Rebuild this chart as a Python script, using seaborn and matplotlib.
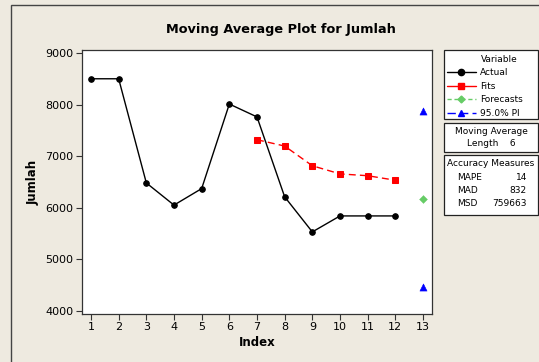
import matplotlib
matplotlib.use("Agg")
import matplotlib.pyplot as plt
import seaborn as sns
import pandas as pd
from matplotlib.lines import Line2D
from matplotlib.patches import Rectangle

# ---- data ----
index_actual = [1, 2, 3, 4, 5, 6, 7, 8, 9, 10, 11, 12]
actual = [8500, 8500, 6480, 6050, 6370, 8010, 7760, 6210, 5530, 5840, 5840, 5840]
index_fits = [7, 8, 9, 10, 11, 12]
fits = [7318, 7195, 6813, 6655, 6620, 6532]
index_forecast = [13]
forecast = [6170]
index_pi = [13, 13]
pi = [4462, 7878]
x_ticks = list(range(1, 14))
y_ticks = [4000, 5000, 6000, 7000, 8000, 9000]
title = "Moving Average Plot for Jumlah"
measures = ["MAPE", "MAD", "MSD"]
measure_vals = ["14", "832", "759663"]

sns.set_style("white")
plt.rcParams['font.family'] = ['DejaVu Sans']
plt.rcParams['text.color'] = 'black'
plt.rcParams['axes.labelcolor'] = 'black'
plt.rcParams['xtick.color'] = 'black'
plt.rcParams['ytick.color'] = 'black'

bg = "#EEEAE0"
W, H = 539, 362
fig = plt.figure(figsize=(W / 100, H / 100), dpi=100, facecolor=bg)

def fx(px):
    return px / W

def fy(py):
    return 1 - py / H

# outer frame
fig.patches.append(Rectangle((fx(11), -0.2), 2, fy(5) + 0.2, transform=fig.transFigure,
                             fill=False, edgecolor="#444444", linewidth=1.0))

ax = fig.add_axes([fx(82), fy(314), fx(432) - fx(82), fy(50) - fy(314)])
ax.set_facecolor("white")

df_a = pd.DataFrame({"Index": index_actual, "Jumlah": actual})
df_f = pd.DataFrame({"Index": index_fits, "Jumlah": fits})
df_fc = pd.DataFrame({"Index": index_forecast, "Jumlah": forecast})
df_pi = pd.DataFrame({"Index": index_pi, "Jumlah": pi})

sns.lineplot(data=df_a, x="Index", y="Jumlah", ax=ax, color="black", linewidth=1.0,
             marker="o", markersize=4, markeredgecolor="black")
sns.lineplot(data=df_f, x="Index", y="Jumlah", ax=ax, color="#FF0000", linewidth=1.0,
             linestyle=(0, (5, 3)), marker="s", markersize=4.2, markeredgecolor="#FF0000")
sns.scatterplot(data=df_fc, x="Index", y="Jumlah", ax=ax, color="#66CC66", marker="D",
                s=16, edgecolor="#66CC66")
sns.scatterplot(data=df_pi, x="Index", y="Jumlah", ax=ax, color="#0000FF", marker="^",
                s=26, edgecolor="#0000FF")

ax.set_xlim(0.675, 13.325)
ax.set_ylim(3938, 9058)
ax.set_xticks(x_ticks)
ax.set_yticks(y_ticks)
ax.tick_params(axis="both", direction="out", length=4, width=0.8, labelsize=8,
               color="#333333", pad=2, left=True, bottom=True)
for s in ax.spines.values():
    s.set_color("#333333")
    s.set_linewidth(0.9)
ax.set_xlabel("Index", fontsize=8.5, fontweight="bold", labelpad=3)
ax.set_ylabel("Jumlah", fontsize=8.5, fontweight="bold", labelpad=4)

fig.text(fx(281), fy(30), title, ha="center", va="center", fontsize=9.3, fontweight="bold")

# legend boxes
def box(x0, y0, x1, y1):
    fig.patches.append(Rectangle((fx(x0), fy(y1)), fx(x1) - fx(x0), fy(y0) - fy(y1),
                                 transform=fig.transFigure, facecolor="white",
                                 edgecolor="#222222", linewidth=0.9))

box(444, 50, 538, 119)
box(444, 123, 538, 152)
box(444, 155, 538, 215)

handles = [
    Line2D([], [], color="black", marker="o", markersize=4.5, linewidth=1.0),
    Line2D([], [], color="#FF0000", marker="s", markersize=4.5, linewidth=1.0),
    Line2D([], [], color="#66CC66", marker="D", markersize=3.5, linewidth=1.0, linestyle=(0, (3, 2))),
    Line2D([], [], color="#0000FF", marker="^", markersize=4.5, linewidth=1.0, linestyle=(0, (6, 3))),
]
labels = ["Actual", "Fits", "Forecasts", "95.0% PI"]
leg = fig.legend(handles, labels, title="Variable", loc="upper left",
                 bbox_to_anchor=(fx(445), fy(53)), frameon=False, fontsize=6.5,
                 title_fontsize=6.5, handlelength=3.2, handletextpad=0.5,
                 labelspacing=0.5, borderpad=0.2, borderaxespad=0)
leg._legend_box.align = "left"
leg.get_title().set_position((34, 0))

fig.text(fx(491), fy(131), "Moving Average", ha="center", va="center", fontsize=6.5)
fig.text(fx(491), fy(144), "Length    6", ha="center", va="center", fontsize=6.5)
fig.text(fx(491), fy(163), "Accuracy Measures", ha="center", va="center", fontsize=6.5)
for i, (m, v) in enumerate(zip(measures, measure_vals)):
    yy = 177 + i * 13.5
    fig.text(fx(457), fy(yy), m, ha="left", va="center", fontsize=6.5)
    fig.text(fx(527), fy(yy), v, ha="right", va="center", fontsize=6.5)

fig.savefig("out.png", dpi=100, facecolor=bg)
